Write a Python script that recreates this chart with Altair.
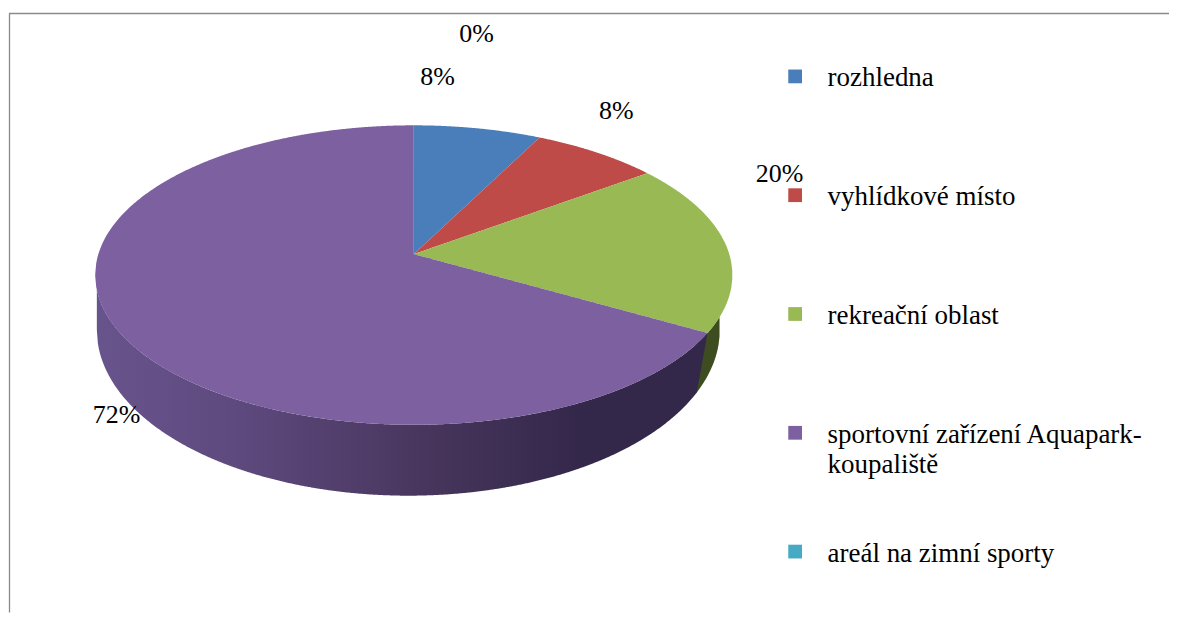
import math
import altair as alt
import numpy as np
import pandas as pd

# ---- chart values -------------------------------------------------------
categories = ["rozhledna", "vyhlídkové místo", "rekreační oblast",
              "sportovní zařízení Aquapark-koupaliště", "areál na zimní sporty"]
values = [8, 8, 20, 72, 0]
value_labels = ["8%", "8%", "20%", "72%", "0%"]
legend_lines = [["rozhledna"], ["vyhlídkové místo"], ["rekreační oblast"],
                ["sportovní zařízení Aquapark-", "koupaliště"], ["areál na zimní sporty"]]
colors = ["#4a7ebb", "#be4b48", "#98b954", "#7d60a0", "#46aac5"]

# ---- tilted pie projection (the 3-D look of the original) ---------------
APEX_X, APEX_Y, RX0 = 413.5, 254.0, 316.0
PERSP, TILT = 0.14, -111.5
LOW_CX, LOW_CY, LOW_RX, LOW_RY = 408.0, 330.0, 312.0, 166.0
TOP_CY, TOP_RX, TOP_RY = 275.0, 319.0, 150.0


def project(frac):
    a = 2 * math.pi * frac
    u, v = math.sin(a), math.cos(a)
    d = 1 + PERSP * v
    return APEX_X + RX0 * u / d, (TILT * v + APEX_Y) / d


def wedge_rows(cat, f0, f1):
    n = max(2, int((f1 - f0) * 400))
    pts = [(APEX_X, APEX_Y)] + [project(f0 + (f1 - f0) * i / n) for i in range(n + 1)]
    xs_p = [p[0] for p in pts]
    grid = set(np.arange(min(xs_p) + 0.01, max(xs_p), 1.0).tolist())
    for x in (APEX_X - 0.01, APEX_X + 0.01):
        if min(xs_p) < x < max(xs_p):
            grid.add(x)
    for p in (project(f0), project(f1)):
        for e in (-0.01, 0.01):
            if min(xs_p) < p[0] + e < max(xs_p):
                grid.add(p[0] + e)
    rows = []
    m = len(pts)
    for x in sorted(grid):
        ys = []
        for i in range(m):
            (x0, y0), (x1, y1) = pts[i], pts[(i + 1) % m]
            if (x0 <= x < x1) or (x1 <= x < x0):
                ys.append(y0 + (y1 - y0) * (x - x0) / (x1 - x0))
        if len(ys) >= 2:
            rows.append({"cat": cat, "x": x, "y": min(ys), "y2": max(ys)})
    return rows


total = sum(values)
fracs = [0.0]
for v in values:
    fracs.append(fracs[-1] + v / total)

top_rows = []
for i, c in enumerate(categories):
    if values[i] > 0:
        top_rows += wedge_rows(c, fracs[i], fracs[i + 1])
top_df = pd.DataFrame(top_rows)


def top_arc(x):
    t = min(1.0, abs(x - APEX_X) / TOP_RX)
    return TOP_CY + TOP_RY * math.sqrt(1 - t * t)


def low_arc(x):
    t = min(1.0, abs(x - LOW_CX) / LOW_RX)
    return LOW_CY + LOW_RY * math.sqrt(1 - t * t)


# side wall split where the green wedge ends
gx, gy = project(fracs[3])
foot_x, foot_y = gx - 12.0, gy + 66.0
purple_wall, green_wall = [], []
for x in np.arange(LOW_CX - LOW_RX, gx + 0.5, 1.0):
    x = min(float(x), gx)
    y2 = low_arc(x)
    if x > foot_x:
        y2 = min(y2, foot_y + (gy - foot_y) * (x - foot_x) / (gx - foot_x))
    purple_wall.append({"x": x, "y": top_arc(x), "y2": y2})
for x in np.arange(foot_x, LOW_CX + LOW_RX + 0.5, 1.0):
    green_wall.append({"x": float(x), "y": top_arc(x), "y2": low_arc(x)})

X = alt.X("x:Q", axis=None, scale=alt.Scale(domain=[8, 1170], nice=False, zero=False))
Y = alt.Y("y:Q", axis=None, scale=alt.Scale(domain=[613, 8], nice=False, zero=False))
COLOR = alt.Color("cat:N", legend=None,
                  scale=alt.Scale(domain=categories, range=colors))

purple_gradient = alt.Gradient(
    gradient="linear", x1=0, x2=1, y1=0, y2=0,
    stops=[alt.GradientStop(offset=0.0, color="#68548c"),
           alt.GradientStop(offset=0.22, color="#5f4a7f"),
           alt.GradientStop(offset=0.55, color="#47355c"),
           alt.GradientStop(offset=0.8, color="#33274a"),
           alt.GradientStop(offset=1.0, color="#33274a")])

wall_g = alt.Chart(pd.DataFrame(green_wall)).mark_area(color="#3d4d20").encode(x=X, y=Y, y2="y2:Q")
wall_p = alt.Chart(pd.DataFrame(purple_wall)).mark_area(color=purple_gradient).encode(x=X, y=Y, y2="y2:Q")
top = alt.Chart(top_df).mark_area().encode(x=X, y=Y, y2="y2:Q", color=COLOR, detail="cat:N")

# ---- percentage labels ---------------------------------------------------
label_anchor = [(420, 85), (599, 119), (756, 182), (92, 423), (459, 42)]
label_df = pd.DataFrame({"x": [a[0] for a in label_anchor],
                         "y": [a[1] for a in label_anchor],
                         "t": value_labels})
labels = alt.Chart(label_df).mark_text(
    font="Liberation Serif", fontSize=26, align="left", baseline="alphabetic", color="black"
).encode(x=X, y=Y, text="t:N")

# ---- legend --------------------------------------------------------------
LEG_Y0, LEG_STEP, LEG_SYM_X, LEG_TEXT_X = 76.0, 119.0, 795.5, 828
sym_df = pd.DataFrame({"x": [LEG_SYM_X] * len(categories),
                       "y": [LEG_Y0 + i * LEG_STEP for i in range(len(categories))],
                       "cat": categories})
symbols = alt.Chart(sym_df).mark_square(size=190, opacity=1).encode(x=X, y=Y, color=COLOR)
rows = []
for i, lines in enumerate(legend_lines):
    for j, line in enumerate(lines):
        rows.append({"x": LEG_TEXT_X, "y": LEG_Y0 + i * LEG_STEP + 10 + 30 * j, "t": line})
leg_text = alt.Chart(pd.DataFrame(rows)).mark_text(
    font="Liberation Serif", fontSize=27, align="left", baseline="alphabetic", color="black"
).encode(x=X, y=Y, text="t:N")

# ---- frame ---------------------------------------------------------------
frame_base = alt.Chart(pd.DataFrame({"a": [0]}))
frame_top = frame_base.mark_rule(color="#8a8a8a", size=1.3).encode(
    x=alt.value(0), x2=alt.value(1162), y=alt.value(5))
frame_left = frame_base.mark_rule(color="#8a8a8a", size=1.3).encode(
    x=alt.value(0.5), y=alt.value(5), y2=alt.value(605))

chart = (
    alt.layer(frame_top, frame_left, wall_g, wall_p, top, labels, symbols, leg_text)
    .properties(width=1162, height=605, padding=0)
    .configure_view(stroke=None)
)
chart.save("out.html", embed_options={"renderer": "svg", "actions": False})
